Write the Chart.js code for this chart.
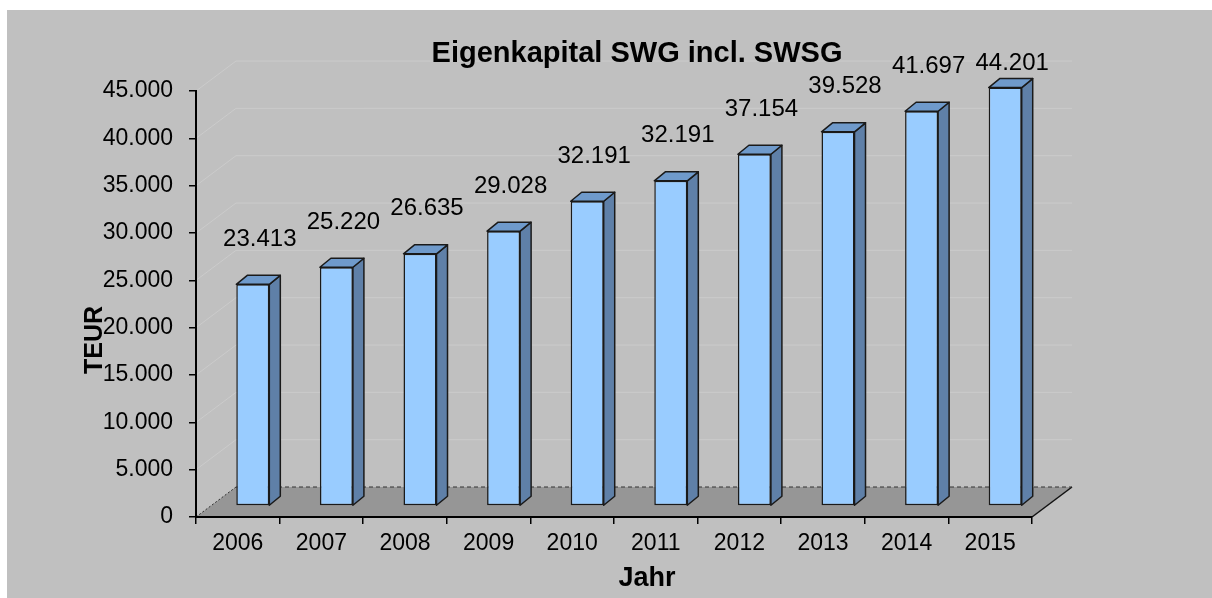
<!DOCTYPE html>
<html>
<head>
<meta charset="utf-8">
<title>Eigenkapital SWG incl. SWSG</title>
<script src="https://cdn.jsdelivr.net/npm/chart.js@4.4.0/dist/chart.umd.min.js"></script>
<style>
  html, body { margin: 0; padding: 0; background: #fff; }
  #wrap { position: absolute; left: 7px; top: 10px; width: 1205px; height: 588px; background: #c0c0c0; }
</style>
</head>
<body>
<div id="wrap"><canvas id="chart" width="1205" height="588"></canvas></div>
<script>
// Daten
const years = ["2006", "2007", "2008", "2009", "2010", "2011", "2012", "2013", "2014", "2015"];
const equity = [23413, 25220, 26635, 29028, 32191, 34350, 37154, 39528, 41697, 44201];
// Beschriftungen wie im Original (2011 zeigt dort 32.191)
const shownLabels = [23413, 25220, 26635, 29028, 32191, 32191, 37154, 39528, 41697, 44201];
const yMax = 45000;
const yStep = 5000;

const chartTitle = "Eigenkapital SWG incl. SWSG";
const xTitle = "Jahr";
const yTitle = "TEUR";

const FONT = "'Liberation Sans', Arial, sans-serif";
Chart.defaults.font.family = FONT;
Chart.defaults.color = "#000";

function formatNum(n) {
  return String(n).replace(/\B(?=(\d{3})+(?!\d))/g, ".");
}

// 3D-Effekt: Boden, Rückwand, Säulen
const floorDepth = { dx: 40, dy: -30 };
const barShift = { dx: 15, dy: -11 };
const barDepth = { dx: 11, dy: -9 };

const pseudo3d = {
  id: "pseudo3d",
  beforeDraw(chart) {
    const { ctx, chartArea: a, scales } = chart;
    const y = scales.y;
    ctx.save();
    // Gitterlinien an der Rückwand
    ctx.strokeStyle = "#cbcbcb";
    ctx.lineWidth = 1;
    for (let v = yStep; v <= yMax; v += yStep) {
      const py = y.getPixelForValue(v);
      ctx.beginPath();
      ctx.moveTo(a.left, py);
      ctx.lineTo(a.left + floorDepth.dx, py + floorDepth.dy);
      ctx.lineTo(a.right + floorDepth.dx, py + floorDepth.dy);
      ctx.stroke();
    }
    // Boden
    const b = a.bottom;
    ctx.fillStyle = "#969696";
    ctx.beginPath();
    ctx.moveTo(a.left, b);
    ctx.lineTo(a.left + floorDepth.dx, b + floorDepth.dy);
    ctx.lineTo(a.right + floorDepth.dx, b + floorDepth.dy);
    ctx.lineTo(a.right, b);
    ctx.closePath();
    ctx.fill();
    // rechte Kante
    ctx.strokeStyle = "#111";
    ctx.lineWidth = 1.5;
    ctx.beginPath();
    ctx.moveTo(a.right, b);
    ctx.lineTo(a.right + floorDepth.dx, b + floorDepth.dy);
    ctx.stroke();
    // hintere Kante gestrichelt
    ctx.lineWidth = 1;
    ctx.strokeStyle = "#333";
    ctx.setLineDash([4, 3]);
    ctx.beginPath();
    ctx.moveTo(a.left + floorDepth.dx, b + floorDepth.dy);
    ctx.lineTo(a.right + floorDepth.dx, b + floorDepth.dy);
    ctx.stroke();
    // linke Kante gepunktet
    ctx.setLineDash([2, 2]);
    ctx.beginPath();
    ctx.moveTo(a.left, b);
    ctx.lineTo(a.left + floorDepth.dx, b + floorDepth.dy);
    ctx.stroke();
    ctx.restore();
  },
  beforeDatasetDraw(chart, args) {
    const ctx = chart.ctx;
    ctx.save();
    ctx.translate(barShift.dx, barShift.dy);
    ctx.strokeStyle = "#1a1a1a";
    ctx.lineWidth = 1.5;
    ctx.lineJoin = "round";
    args.meta.data.forEach((el) => {
      const { x, y, base, width } = el.getProps(["x", "y", "base", "width"], true);
      const l = x - width / 2;
      const r = x + width / 2;
      // Seite
      ctx.fillStyle = "#5f80a8";
      ctx.beginPath();
      ctx.moveTo(r, y);
      ctx.lineTo(r + barDepth.dx, y + barDepth.dy);
      ctx.lineTo(r + barDepth.dx, base + barDepth.dy);
      ctx.lineTo(r, base);
      ctx.closePath();
      ctx.fill();
      ctx.stroke();
      // Deckel
      ctx.fillStyle = "#6f9acb";
      ctx.beginPath();
      ctx.moveTo(l, y);
      ctx.lineTo(l + barDepth.dx, y + barDepth.dy);
      ctx.lineTo(r + barDepth.dx, y + barDepth.dy);
      ctx.lineTo(r, y);
      ctx.closePath();
      ctx.fill();
      ctx.stroke();
    });
  },
  afterDatasetDraw(chart) {
    chart.ctx.restore();
  },
  afterDatasetsDraw(chart) {
    const { ctx, chartArea: a } = chart;
    const meta = chart.getDatasetMeta(0);
    ctx.save();
    ctx.fillStyle = "#000";
    ctx.font = "24px " + FONT;
    ctx.textAlign = "center";
    ctx.textBaseline = "middle";
    meta.data.forEach((el, i) => {
      const { x, y } = el.getProps(["x", "y"], true);
      const ly = Math.max(y + barShift.dy - 45, a.top - 28);
      ctx.fillText(formatNum(shownLabels[i]), x + 22, ly);
    });
    ctx.restore();
  },
  afterDraw(chart) {
    const ctx = chart.ctx;
    ctx.save();
    ctx.fillStyle = "#000";
    ctx.textBaseline = "alphabetic";
    ctx.textAlign = "center";
    ctx.font = "bold 29px " + FONT;
    ctx.fillText(chartTitle, 630, 52);
    ctx.font = "bold 27px " + FONT;
    ctx.fillText(xTitle, 640, 576);
    ctx.translate(95, 330);
    ctx.rotate(-Math.PI / 2);
    ctx.font = "bold 25px " + FONT;
    ctx.fillText(yTitle, 0, 0);
    ctx.restore();
  },
};

new Chart(document.getElementById("chart"), {
  type: "bar",
  data: {
    labels: years,
    datasets: [
      {
        label: "Eigenkapital",
        data: equity,
        backgroundColor: "#99ccff",
        borderColor: "#1a1a1a",
        borderWidth: 1.5,
        borderSkipped: false,
        categoryPercentage: 1,
        barPercentage: 0.395,
        clip: false,
      },
    ],
  },
  options: {
    responsive: false,
    animation: false,
    devicePixelRatio: 1,
    layout: { padding: { top: 81, right: 180, left: 0, bottom: 0 } },
    plugins: {
      legend: { display: false },
      title: { display: false },
      tooltip: { enabled: false },
    },
    scales: {
      x: {
        grid: {
          drawOnChartArea: false,
          offset: true,
          tickLength: 7,
          color: "#000",
          lineWidth: 1.5,
        },
        border: { color: "#000", width: 2 },
        ticks: { font: { size: 23 }, color: "#000", padding: 6, maxRotation: 0 },
        afterFit: (s) => {
          s.height = 81;
        },
      },
      y: {
        min: 0,
        max: yMax,
        grid: {
          drawOnChartArea: false,
          tickLength: 7,
          color: "#000",
          lineWidth: 1.5,
        },
        border: { color: "#000", width: 2 },
        ticks: {
          stepSize: yStep,
          font: { size: 23 },
          color: "#000",
          padding: 16,
          callback: (v) => formatNum(v),
        },
        afterFit: (s) => {
          s.width = 189;
        },
      },
    },
  },
  plugins: [pseudo3d],
});
</script>
</body>
</html>
